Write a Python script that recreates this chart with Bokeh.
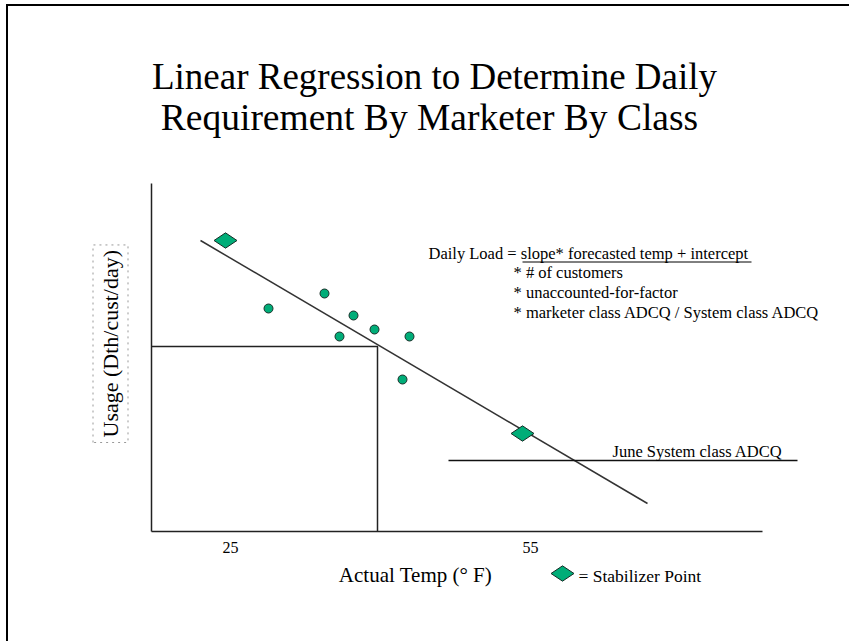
import math
from bokeh.plotting import figure
from bokeh.models import Range1d, FixedTicker, Label, Title
from bokeh.layouts import column
from bokeh.embed import file_html
from bokeh.resources import INLINE

# ---- data ----
obs_temp = [28.8, 34.4, 37.3, 39.4, 35.9, 42.9, 42.2]
obs_usage = [2.23, 2.38, 2.16, 2.02, 1.95, 1.95, 1.52]
stab_temp = [24.5, 54.2]
stab_usage = [2.91, 0.98]
fit_temp = [22.0, 66.7]
fit_usage = [2.91, 0.28]
forecast_temp = [39.7]
forecast_usage = [1.85]
june_temp_span = [46.8, 81.7]
june_adcq = [0.71]
x_ticks = [25, 55]
x_tick_labels = ["25", "55"]
axis_temp_span = (17.1, 78.2)
axis_usage_span = (0.0, 3.48)

FONT = "Liberation Serif"
GREEN = "#00AD78"
EDGE = "#1a2e28"

# page pixel -> data helpers (text placement only)
def dx(px):
    return 25 + (px - 230) / 10.0

def dy(py):
    return (531 - py) / 100.0

MAIN_H = 560
p = figure(width=849, height=MAIN_H,
           x_range=Range1d(dx(151), dx(849)), y_range=Range1d(dy(531), dy(0)),
           output_backend="svg", toolbar_location=None,
           min_border_left=151, min_border_right=0,
           min_border_top=0, min_border_bottom=MAIN_H - 531)
p.grid.visible = False
p.outline_line_color = None
p.background_fill_color = None
p.border_fill_color = None

# axes
p.xaxis.bounds = axis_temp_span
p.yaxis.bounds = axis_usage_span
p.xaxis.ticker = FixedTicker(ticks=x_ticks)
p.xaxis.major_label_overrides = {t: s for t, s in zip(x_ticks, x_tick_labels)}
p.xaxis.major_tick_line_color = None
p.xaxis.major_tick_out = 0
p.xaxis.minor_tick_line_color = None
p.xaxis.major_label_standoff = 10
p.xaxis.major_label_text_font = FONT
p.xaxis.major_label_text_font_size = "16px"
p.xaxis.major_label_text_color = "black"
p.yaxis.ticker = FixedTicker(ticks=[])
p.yaxis.major_tick_line_color = None
p.yaxis.major_tick_out = 0
p.yaxis.minor_tick_line_color = None
p.yaxis.major_label_text_color = None
p.yaxis.major_label_standoff = 0
for ax in (p.xaxis, p.yaxis):
    ax.axis_line_color = "#222222"
    ax.axis_line_width = 1.5

# y axis title with dotted frame
ytitle = Title(text="Usage (Dth/cust/day)", align="left", offset=89,
               vertical_align="middle", standoff=45,
               text_font=FONT, text_font_size="22px", text_font_style="normal",
               text_color="black", border_line_color="#999999",
               border_line_dash="dotted", border_line_width=1, padding=5)
p.add_layout(ytitle, "left")

# crosshair from forecast temperature to regression line
p.line(x=[axis_temp_span[0], forecast_temp[0], forecast_temp[0]],
       y=[forecast_usage[0], forecast_usage[0], axis_usage_span[0]],
       line_color="#222222", line_width=1.5)

# regression line
p.line(x=fit_temp, y=fit_usage, line_color="#333333", line_width=1.5)

# June system class ADCQ line
p.segment(x0=[june_temp_span[0]], y0=june_adcq, x1=[june_temp_span[1]], y1=june_adcq,
          line_color="#111111", line_width=1.5)

# observations
p.scatter(x=obs_temp, y=obs_usage, marker="circle", size=9,
          fill_color=GREEN, line_color=EDGE, line_width=1)

# stabilizer points
p.scatter(x=stab_temp, y=stab_usage, marker="diamond", size=23, angle=math.pi / 2,
          fill_color=GREEN, line_color=EDGE, line_width=1)

# underline of formula
p.segment(x0=[dx(522)], y0=[dy(261.5)], x1=[dx(751)], y1=[dy(261.5)],
          line_color="black", line_width=1)

def lab(fig, conv, text, px, py, size, align="left", **kw):
    cx, cy = conv
    l = Label(x=cx(px), y=cy(py), text=text, text_font=FONT,
              text_font_size=size, text_align=align, text_baseline="middle",
              text_color="black", **kw)
    fig.add_layout(l)
    return l

main = (dx, dy)
# title
lab(p, main, "Linear Regression to Determine Daily", 434, 76, "37px", align="center")
lab(p, main, "Requirement By Marketer By Class", 429, 117, "37.5px", align="center")

# formula annotation
lab(p, main, "Daily Load = slope* forecasted temp + intercept", 428, 253, "16.5px")
lab(p, main, "* # of customers", 513, 271.5, "16.5px")
lab(p, main, "* unaccounted-for-factor", 513, 291.5, "16.5px")
lab(p, main, "* marketer  class ADCQ / System class ADCQ", 513, 311.5, "16.5px")

# June label
lab(p, main, "June System class ADCQ", 782, 451, "16.5px", align="right")

# ---- bottom strip: x axis title and legend key ----
def sy(py):
    return 641 - py

s = figure(width=849, height=641 - MAIN_H,
           x_range=Range1d(dx(151), dx(849)), y_range=Range1d(0, 641 - MAIN_H),
           output_backend="svg", toolbar_location=None,
           x_axis_type=None, y_axis_type=None,
           min_border_left=151, min_border_right=0, min_border_top=0, min_border_bottom=0)
s.grid.visible = False
s.outline_line_color = None
s.background_fill_color = None
s.border_fill_color = None

strip = (dx, sy)
lab(s, strip, "Actual Temp (\u00b0 F)", 415, 574, "21px", align="center")
s.scatter(x=[dx(562)], y=[sy(573)], marker="diamond", size=23, angle=math.pi / 2,
          fill_color=GREEN, line_color=EDGE, line_width=1)
lab(s, strip, "= Stabilizer Point", 578, 575, "17.5px")

root = column(p, s, spacing=0)
root.styles = {
    "background": "linear-gradient(#000, #000) 6px 4px / 100% 2px no-repeat, "
                  "linear-gradient(#000, #000) 6px 4px / 2px 100% no-repeat"
}

open("out.html", "w").write(file_html(root, INLINE))
